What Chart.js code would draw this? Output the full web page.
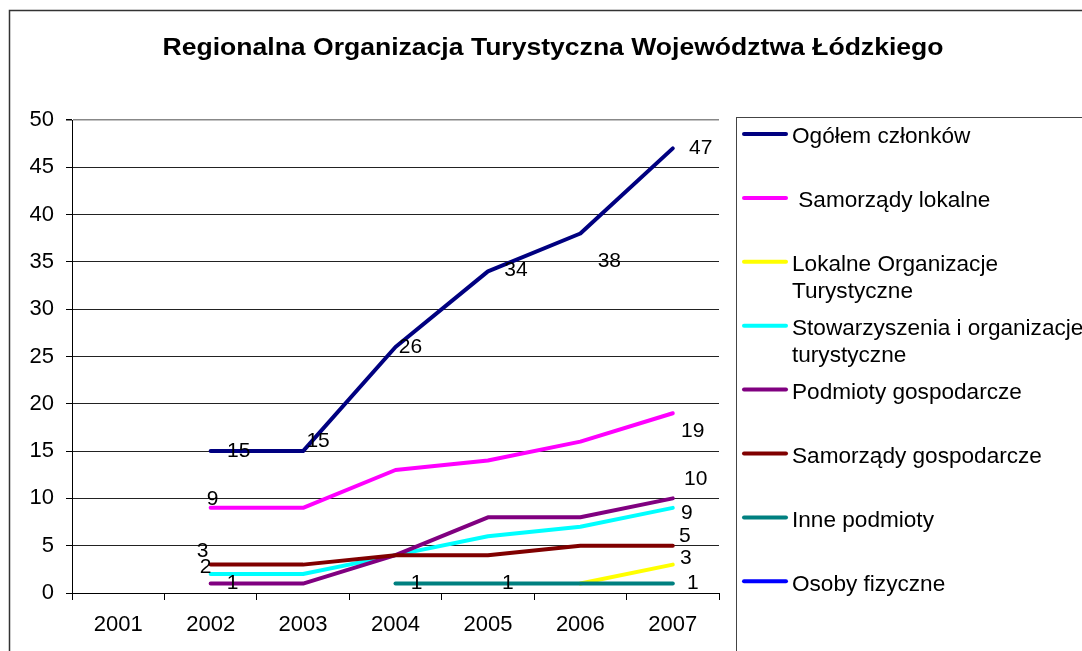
<!DOCTYPE html>
<html>
<head>
<meta charset="utf-8">
<script src="https://cdn.jsdelivr.net/npm/chart.js@4.4.0/dist/chart.umd.min.js"></script>
<style>
  html, body { margin: 0; padding: 0; background: #fff; }
  #wrap { width: 1082px; height: 651px; position: relative; }
</style>
</head>
<body>
<div id="wrap"><canvas id="rotChart"></canvas></div>
<script>
const years = ['2001', '2002', '2003', '2004', '2005', '2006', '2007'];
const yTicks = [0, 5, 10, 15, 20, 25, 30, 35, 40, 45, 50];

const ogolem = [null, 15, 15, 26, 34, 38, 47];
const samorzadyLokalne = [null, 9, 9, 13, 14, 16, 19];
const lokalneOrganizacje = [null, null, null, null, null, 1, 3];
const stowarzyszenia = [null, 2, 2, 4, 6, 7, 9];
const podmiotyGosp = [null, 1, 1, 4, 8, 8, 10];
const samorzadyGosp = [null, 3, 3, 4, 4, 5, 5];
const innePodmioty = [null, null, null, 1, 1, 1, 1];
const osobyFizyczne = [null, null, null, null, null, null, null];

const seriesNames = [
  'Ogółem członków',
  ' Samorządy lokalne',
  ['Lokalne Organizacje', 'Turystyczne'],
  ['Stowarzyszenia i organizacje', 'turystyczne'],
  'Podmioty gospodarcze',
  'Samorządy gospodarcze',
  'Inne podmioty',
  'Osoby fizyczne'
];
const seriesValues = [ogolem, samorzadyLokalne, lokalneOrganizacje, stowarzyszenia,
  podmiotyGosp, samorzadyGosp, innePodmioty, osobyFizyczne];
const seriesColors = ['#000080', '#ff00ff', '#ffff00', '#00ffff',
  '#800080', '#800000', '#008080', '#0000ff'];

// which points carry a value label (index of year)
const labelledPoints = [
  [1, 2, 3, 4, 5, 6],
  [1, 6],
  [6],
  [1, 6],
  [1, 6],
  [1, 6],
  [3, 4, 6],
  []
];

const FONT = '"Liberation Sans", Arial, sans-serif';
const TITLE = 'Regionalna Organizacja Turystyczna Województwa Łódzkiego';

// label nudges, [dx, dy] per labelled point
const labelNudge = [
  [[28, 0], [15, -10], [15, 0], [28, -1], [29, 28], [28, 0]],
  [[2, -9], [20, 18]],
  [[13, -6]],
  [[-5, -7], [14, 5]],
  [[22, 0], [23, -19]],
  [[-8, -13], [12, -9]],
  [[21, 0], [20, 0], [20, 0]],
  []
];

const frame = {
  id: 'frame',
  beforeDraw(chart) {
    const c = chart.ctx;
    c.save();
    c.fillStyle = '#fff';
    c.fillRect(0, 0, chart.width, chart.height);
    c.strokeStyle = '#333';
    c.lineWidth = 1.5;
    c.strokeRect(9.5, 10.5, 1200, 1000);
    c.fillStyle = '#000';
    c.font = 'bold 24px ' + FONT;
    c.textAlign = 'center';
    c.textBaseline = 'middle';
    // the original title is a bit wider than plain Arial bold
    const w = c.measureText(TITLE).width;
    const sx = 781 / w;
    c.translate(553, 48);
    c.scale(sx, 1);
    c.fillText(TITLE, 0, 0);
    c.restore();
  }
};

const valueLabels = {
  id: 'valueLabels',
  afterDatasetsDraw(chart) {
    const c = chart.ctx;
    c.save();
    c.fillStyle = '#000';
    c.font = '21px ' + FONT;
    c.textAlign = 'center';
    c.textBaseline = 'middle';
    chart.data.datasets.forEach((ds, di) => {
      const meta = chart.getDatasetMeta(di);
      labelledPoints[di].forEach((idx, k) => {
        const pt = meta.data[idx];
        const v = ds.data[idx];
        if (!pt || v == null) return;
        const n = labelNudge[di][k] || [15, 0];
        c.fillText(String(v), pt.x + n[0], pt.y + n[1]);
      });
    });
    c.restore();
  }
};

const sideLegend = {
  id: 'sideLegend',
  afterDraw(chart) {
    const c = chart.ctx;
    c.save();
    c.strokeStyle = '#444';
    c.lineWidth = 1;
    c.strokeRect(736.5, 117.5, 500, 600);
    c.font = '22.6px ' + FONT;
    c.textBaseline = 'middle';
    c.textAlign = 'left';
    chart.data.datasets.forEach((ds, i) => {
      const y = 134 + i * 63.9;
      c.strokeStyle = ds.borderColor;
      c.lineWidth = 4;
      c.lineCap = 'round';
      c.beginPath();
      c.moveTo(744, y);
      c.lineTo(786, y);
      c.stroke();
      c.fillStyle = '#000';
      const lines = Array.isArray(ds.label) ? ds.label : [ds.label];
      lines.forEach((t, j) => c.fillText(t, 792, y + 3 + j * 27));
    });
    c.restore();
  }
};

new Chart(document.getElementById('rotChart'), {
  type: 'line',
  data: {
    labels: years,
    datasets: seriesValues.map((vals, i) => ({
      label: seriesNames[i],
      data: vals,
      borderColor: seriesColors[i],
      backgroundColor: seriesColors[i],
      borderWidth: 4,
      borderCapStyle: 'round',
      borderJoinStyle: 'round',
      pointRadius: 0,
      pointHoverRadius: 0,
      tension: 0,
      spanGaps: false,
      order: seriesValues.length - i
    }))
  },
  options: {
    responsive: true,
    maintainAspectRatio: false,
    animation: false,
    layout: { padding: { left: 0, top: 120, right: 363, bottom: 10 } },
    plugins: {
      legend: { display: false },
      title: { display: false },
      tooltip: { enabled: false }
    },
    scales: {
      x: {
        offset: true,
        afterFit: (s) => { s.height = 48; },
        grid: {
          offset: true,
          drawOnChartArea: false,
          drawTicks: true,
          tickLength: 7,
          color: '#000'
        },
        border: { color: '#000', width: 1 },
        ticks: {
          color: '#000',
          padding: 12,
          maxRotation: 0,
          font: { family: FONT, size: 22 }
        }
      },
      y: {
        min: 0,
        max: 50,
        afterFit: (s) => { s.width = 72; },
        afterBuildTicks: (s) => { s.ticks = yTicks.map(v => ({ value: v })); },
        grid: {
          color: (ctx) => (ctx.tick && ctx.tick.value === 50 ? '#888' : '#222'),
          lineWidth: (ctx) => (ctx.tick && ctx.tick.value === 50 ? 1.5 : 1),
          tickLength: 6,
          tickColor: '#000'
        },
        border: { color: '#000', width: 1 },
        ticks: {
          color: '#000',
          padding: 12,
          font: { family: FONT, size: 22 }
        }
      }
    }
  },
  plugins: [frame, valueLabels, sideLegend]
});
</script>
</body>
</html>
